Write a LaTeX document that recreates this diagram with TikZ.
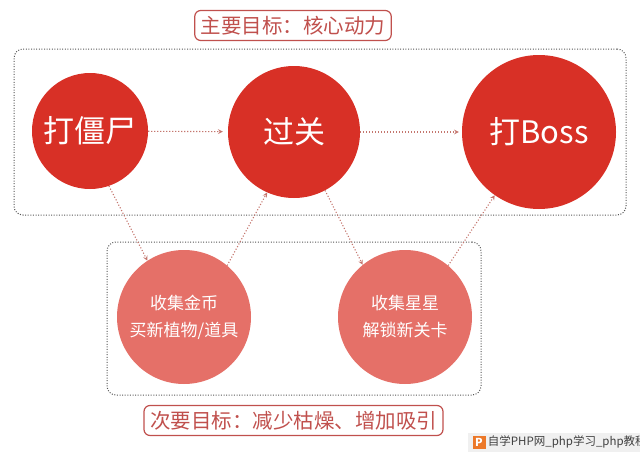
\documentclass[tikz,border=0pt]{standalone}
\usepackage{fontspec}
\setmainfont{Noto Sans CJK SC}
\usetikzlibrary{positioning}
\definecolor{mainred}{RGB}{216,48,38}
\definecolor{softred}{RGB}{229,112,104}
\definecolor{labelred}{RGB}{192,80,77}
\definecolor{arrowred}{RGB}{196,118,110}
\definecolor{groupgray}{RGB}{85,85,85}
\definecolor{wmorange}{RGB}{236,120,40}
\begin{document}
\begin{tikzpicture}[x=1pt, y=-1pt,
    every node/.style={align=center},
    bigcircle/.style={circle, fill=mainred, text=white, inner sep=0pt,
                font=\fontsize{31}{34}\selectfont},
    smallcircle/.style={circle, fill=softred, text=white, inner sep=0pt,
                minimum size=134pt, font=\fontsize{17}{27}\selectfont},
    goalbox/.style={rounded corners=6pt, draw=labelred, line width=1.2pt, text=labelred,
                minimum height=30pt, inner xsep=6pt, font=\fontsize{20.5}{22}\selectfont},
    groupbox/.style={rounded corners=9pt, draw=groupgray, line width=1pt,
                dash pattern=on 1pt off 1.6pt},
    arr/.style={->, >=stealth, line width=1.1pt, arrowred, dash pattern=on 1.1pt off 1.9pt},
  ]
  \useasboundingbox (0,0) rectangle (640,455);

  % === Groups ===
  \node[groupbox, minimum width=612pt, minimum height=166pt] (primary) at (320,132) {};
  \node[groupbox, minimum width=374pt, minimum height=153pt] (secondary) at (294,318.5) {};

  % === Goal labels ===
  \node[goalbox] (maingoal) at (293,25.5) {主要目标：核心动力};
  \node[goalbox] (subgoal)  at (293.5,420.5) {次要目标：减少枯燥、增加吸引};

  % === Main flow ===
  \node[bigcircle, minimum size=116pt] (zombie) at (90,131)  {打僵尸};
  \node[bigcircle, minimum size=132pt] (level)  at (294,132) {过关};
  \node[bigcircle, minimum size=154pt] (boss)   at (539,132) {打Boss};

  % === Side rewards ===
  \node[smallcircle] (coins) at (184,317) {收集金币\\买新植物/道具};
  \node[smallcircle] (stars) at (405,317) {收集星星\\解锁新关卡};

  % === Arrows ===
  \draw[arr, shorten >=5pt] (zombie) -- (level);
  \draw[arr, shorten >=3pt] (level)  -- (boss);
  \draw[arr] (zombie.289) -- (coins.123);
  \draw[arr] (coins.50)   -- (level.246);
  \draw[arr] (level.298)  -- (stars.129);
  \draw[arr] (stars.50)   -- (boss.235);

  % === Watermark ===
  \node[fill=gray!12, minimum width=172pt, minimum height=19pt, inner sep=0pt] (wmbg) at (554,442.5) {};
  \node[fill=wmorange, text=white, minimum size=13pt, inner sep=0pt,
        font=\bfseries\fontsize{11}{11}\selectfont] (wmlogo) at (479,442) {P};
  \node[right=1pt of wmlogo, inner sep=1pt, text=black!75,
        font=\fontsize{11.5}{12}\selectfont] (wmtext) {自学PHP网\_php学习\_php教程};
\end{tikzpicture}
\end{document}
